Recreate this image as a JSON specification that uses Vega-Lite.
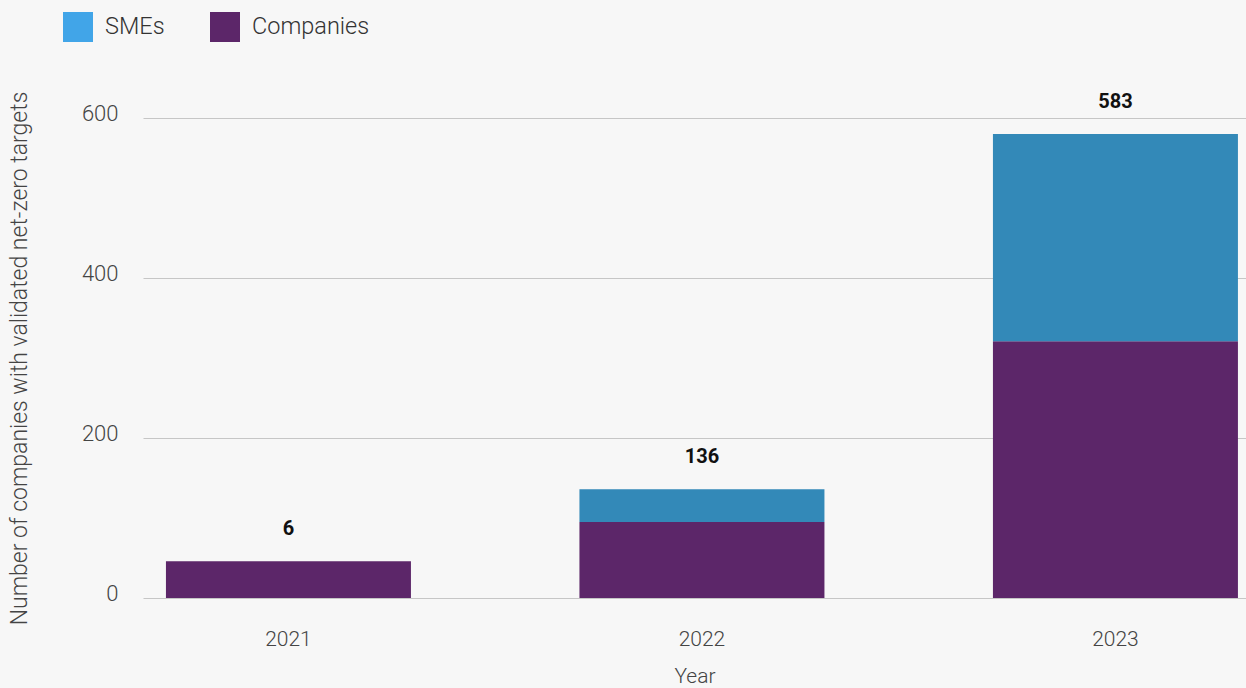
{
  "$schema": "https://vega.github.io/schema/vega-lite/v6.json",
  "autosize": {"type": "none"},
  "width": 1103,
  "height": 480,
  "padding": {"left": 143, "top": 118, "right": 0, "bottom": 90},
  "background": "#f7f7f7",
  "config": {
    "view": {"stroke": null},
    "font": "Roboto"
  },
  "datasets": {
    "bars": [
      {"year": "2021", "series": "Companies", "value": 46, "label": "6"},
      {"year": "2021", "series": "SMEs", "value": 0, "label": "6"},
      {"year": "2022", "series": "Companies", "value": 95, "label": "136"},
      {"year": "2022", "series": "SMEs", "value": 41, "label": "136"},
      {"year": "2023", "series": "Companies", "value": 321, "label": "583"},
      {"year": "2023", "series": "SMEs", "value": 259, "label": "583"}
    ],
    "legendKeys": [
      {"key": "SMEs", "rank": 1},
      {"key": "Companies", "rank": 2}
    ]
  },
  "layer": [
    {
      "data": {"name": "bars"},
      "mark": {"type": "bar"},
      "encoding": {
        "x": {
          "field": "year",
          "type": "ordinal",
          "title": "Year",
          "scale": {"paddingInner": 0.4075, "paddingOuter": 0.0375, "align": 0.74},
          "axis": {
            "labelAngle": 0,
            "ticks": false,
            "domain": false,
            "labelPadding": 30,
            "labelFontSize": 21,
            "labelFont": "Roboto",
            "labelFontWeight": 300,
            "labelColor": "#444444",
            "titleFontSize": 21,
            "titleFont": "Roboto",
            "titleFontWeight": 300,
            "titleColor": "#444444",
            "titlePadding": 16
          }
        },
        "y": {
          "field": "value",
          "type": "quantitative",
          "stack": "zero",
          "title": "Number of companies with validated net-zero targets",
          "scale": {"domain": [0, 600], "nice": false},
          "axis": {
            "values": [0, 200, 400, 600],
            "ticks": false,
            "domain": false,
            "gridColor": "#c6c6c6",
            "gridWidth": 1.2,
            "labelPadding": 25,
            "labelOffset": -5,
            "labelFontSize": 22,
            "labelFont": "Roboto",
            "labelFontWeight": 300,
            "labelColor": "#444444",
            "titleFontSize": 23,
            "titleFont": "Roboto",
            "titleFontWeight": 300,
            "titleColor": "#444444",
            "titlePadding": 50
          }
        },
        "color": {
          "field": "series",
          "type": "nominal",
          "scale": {"domain": ["SMEs", "Companies"], "range": ["#3389b8", "#5c2669"]},
          "legend": null
        },
        "order": {"field": "series", "sort": "ascending"}
      }
    },
    {
      "data": {"name": "legendKeys"},
      "mark": {"type": "square", "size": 0, "filled": true},
      "encoding": {
        "fill": {
          "field": "key",
          "type": "nominal",
          "sort": {"field": "rank"},
          "scale": {"range": ["#41a5e8", "#5c2669"]},
          "legend": {
            "title": null,
            "orient": "none",
            "legendX": -80,
            "legendY": -106,
            "direction": "horizontal",
            "symbolType": "square",
            "symbolSize": 900,
            "symbolStrokeWidth": 0,
            "symbolOpacity": 1,
            "labelFontSize": 23.5,
            "labelFont": "Roboto",
            "labelFontWeight": 300,
            "labelColor": "#333333",
            "labelOffset": 12,
            "columnPadding": 45
          }
        }
      }
    },
    {
      "data": {"name": "bars"},
      "mark": {"type": "text", "dy": -32, "fontSize": 20, "fontWeight": "bold", "font": "Roboto", "color": "#111111"},
      "encoding": {
        "x": {"field": "year", "type": "ordinal"},
        "y": {"aggregate": "sum", "field": "value", "type": "quantitative"},
        "text": {"aggregate": "max", "field": "label"}
      }
    }
  ]
}
